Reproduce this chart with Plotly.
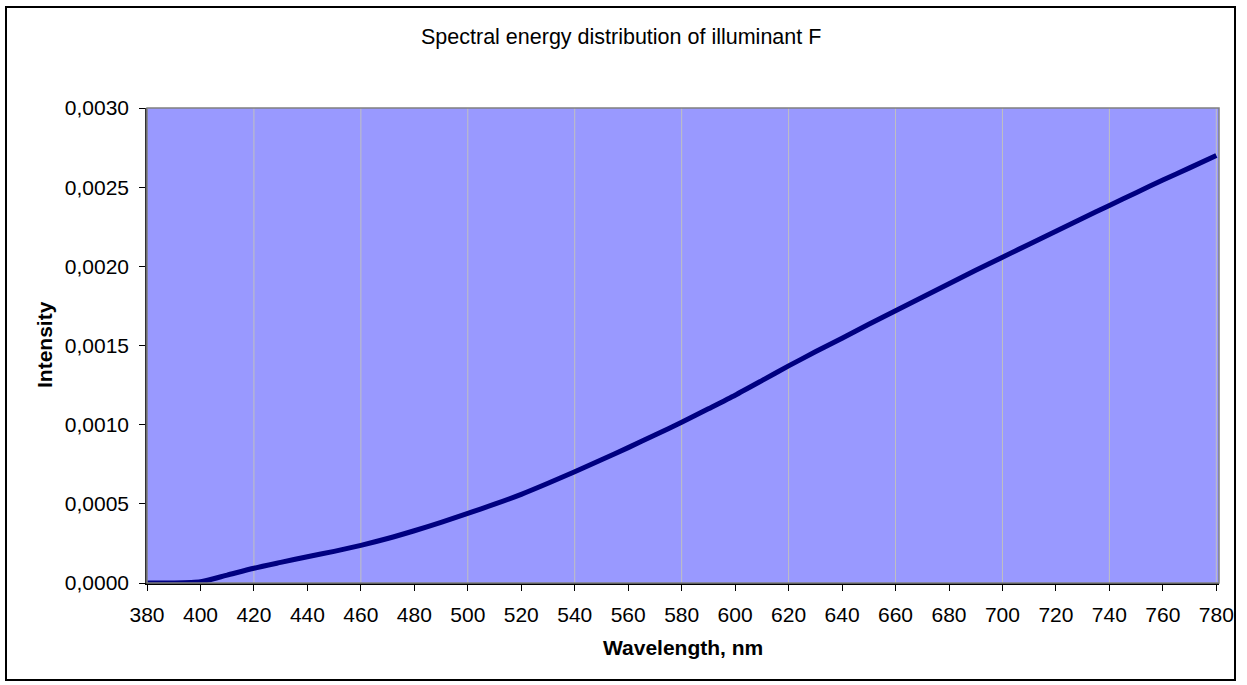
import plotly.graph_objects as go

wavelength = [380, 390, 400, 410, 420, 430, 440, 450, 460, 470, 480, 490, 500,
              510, 520, 530, 540, 550, 560, 570, 580, 590, 600, 610, 620, 630,
              640, 650, 660, 670, 680, 690, 700, 710, 720, 730, 740, 750, 760,
              770, 780]
intensity = [0.0, 0.0, 0.000008, 0.000050, 0.000093, 0.000130, 0.000166, 0.000200,
             0.000238, 0.000281, 0.000330, 0.000383, 0.000440, 0.000498, 0.000560,
             0.000630, 0.000703, 0.000778, 0.000855, 0.000935, 0.001015, 0.001100,
             0.001186, 0.001278, 0.001371, 0.001460, 0.001546, 0.001634, 0.001720,
             0.001805, 0.001890, 0.001975, 0.002058, 0.002140, 0.002222, 0.002304,
             0.002385, 0.002465, 0.002545, 0.002622, 0.002700]
x_ticks = list(range(380, 781, 20))
x_grid = list(range(420, 781, 40))
y_ticks = [0.0, 0.0005, 0.0010, 0.0015, 0.0020, 0.0025, 0.0030]

W, H = 1247, 685
L, R, T, B = 147, 28, 108, 102
pw, ph = W - L - R, H - T - B

fig = go.Figure()
fig.add_trace(go.Scatter(x=wavelength, y=intensity, mode="lines",
                         line=dict(color="#000080", width=5, shape="spline",
                                   smoothing=0.6),
                         showlegend=False, hoverinfo="skip"))

for g in x_grid:
    fig.add_shape(type="line", xref="x", yref="paper", x0=g, x1=g, y0=0, y1=1,
                  line=dict(color="#C0C0C0", width=1), layer="below")

# plot area border
fig.add_shape(type="rect", xref="paper", yref="paper", x0=0, x1=1, y0=0, y1=1,
              line=dict(color="#808080", width=1.5), layer="above")
# outer chart border
fig.add_shape(type="rect", xref="paper", yref="paper",
              x0=(6 - L) / pw, x1=(1235 - L) / pw,
              y0=(H - B - 680) / ph, y1=(H - B - 7) / ph,
              line=dict(color="black", width=2))

font = "Liberation Sans, Arial, sans-serif"
fig.add_annotation(text="Spectral energy distribution of illuminant F",
                   xref="paper", yref="paper",
                   x=(621 - L) / pw, y=(H - B - 37) / ph,
                   showarrow=False, font=dict(size=21.5, color="black", family=font),
                   xanchor="center", yanchor="middle")
fig.add_annotation(text="<b>Wavelength, nm</b>", xref="paper", yref="paper",
                   x=(683 - L) / pw, y=(H - B - 647) / ph,
                   showarrow=False, font=dict(size=21, color="black", family=font),
                   xanchor="center", yanchor="middle")
fig.add_annotation(text="<b>Intensity</b>", xref="paper", yref="paper",
                   x=(44 - L) / pw, y=(H - B - 345) / ph, textangle=-90,
                   showarrow=False, font=dict(size=21, color="black", family=font),
                   xanchor="center", yanchor="middle")

fig.update_layout(
    width=W, height=H, margin=dict(l=L, r=R, t=T, b=B),
    paper_bgcolor="white", plot_bgcolor="#9999FF",
    separators=",.",
    font=dict(family=font, size=21, color="black"),
    xaxis=dict(range=[380, 781], tickvals=x_ticks, showgrid=False, zeroline=False,
               ticks="outside", ticklen=6, tickcolor="black", showline=True,
               linecolor="black", linewidth=1.5, tickfont=dict(size=21),
               ticklabelstandoff=6),
    yaxis=dict(range=[0, 0.003], tickvals=y_ticks, tickformat=".4f", showgrid=False,
               zeroline=False, ticks="outside", ticklen=6, tickcolor="black",
               showline=True, linecolor="#333333", linewidth=1.5,
               tickfont=dict(size=21), ticklabelstandoff=6),
)

fig.write_html("out.html")
